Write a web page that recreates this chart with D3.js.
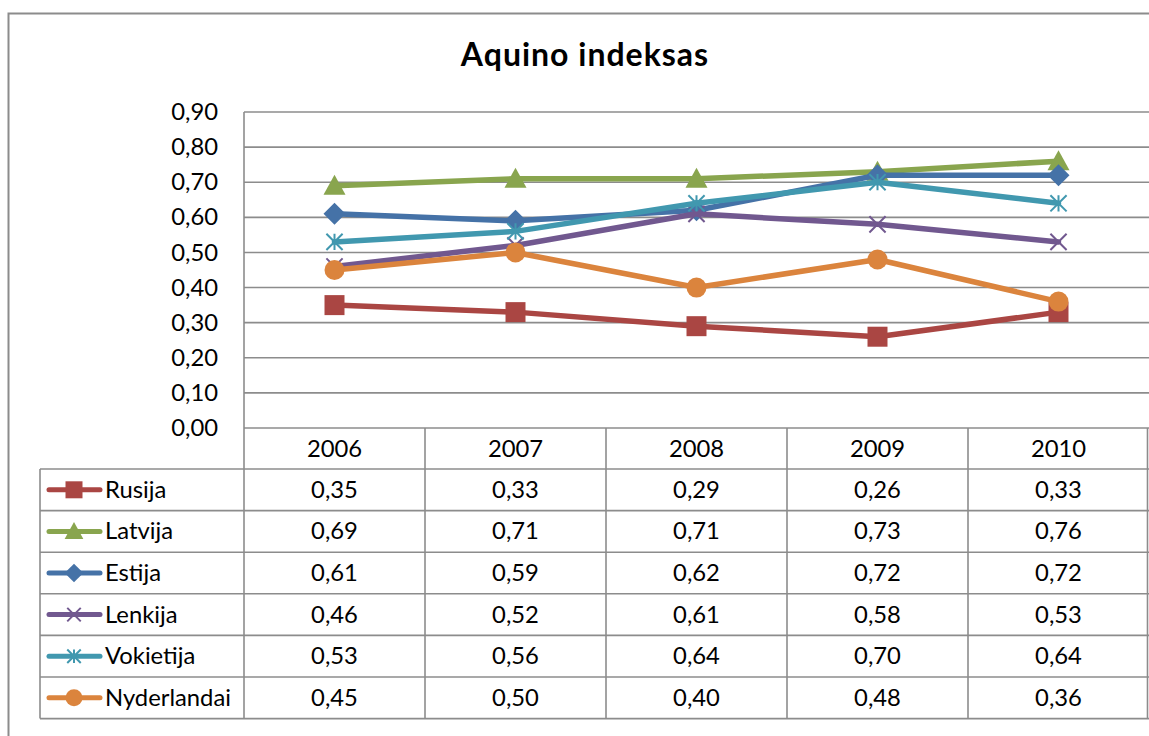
<!DOCTYPE html>
<html><head><meta charset="utf-8">
<script src="https://cdn.jsdelivr.net/npm/d3@7"></script>
<style>body{margin:0;background:#fff}svg{display:block}text{font-family:Lato,"Open Sans",sans-serif}</style>
</head><body>
<svg id="c" width="1149" height="736"></svg>
<script>
const years = ["2006","2007","2008","2009","2010"];
const seriesNames = ["Rusija","Latvija","Estija","Lenkija","Vokietija","Nyderlandai"];
const rusija = [0.35,0.33,0.29,0.26,0.33];
const latvija = [0.69,0.71,0.71,0.73,0.76];
const estija = [0.61,0.59,0.62,0.72,0.72];
const lenkija = [0.46,0.52,0.61,0.58,0.53];
const vokietija = [0.53,0.56,0.64,0.70,0.64];
const nyderlandai = [0.45,0.50,0.40,0.48,0.36];
const yTicks = [0,0.1,0.2,0.3,0.4,0.5,0.6,0.7,0.8,0.9];
const colors = ["#AA4643","#89A54E","#4572A7","#71588F","#4198AF","#DB843D"];
const markers = ["square","triangle","diamond","x","star","circle"];
const allValues = [rusija,latvija,estija,lenkija,vokietija,nyderlandai];

(function(){
const svg = d3.select("#c");
const grid = "#8c8c8c";
const fs = 23.8;
const fmt = v => d3.format(".2f")(v).replace(".", ",");

svg.append("rect").attr("x",8.5).attr("y",13.5).attr("width",1200).attr("height",800)
  .attr("fill","none").attr("stroke",grid).attr("stroke-width",2);

svg.append("text").attr("x",585).attr("y",66).attr("text-anchor","middle")
  .attr("font-size",32).attr("letter-spacing",1).attr("font-weight","bold").text("Aquino indeksas");

const pLeft = 244, pRight = 1149, pTop = 112, pBottom = 428;
const x = d3.scaleBand().domain(years).range([pLeft,pRight]);
const y = d3.scaleLinear().domain([0,0.9]).range([pBottom,pTop]);

svg.append("g").selectAll("line").data(yTicks).join("line")
  .attr("x1",pLeft).attr("x2",pRight).attr("y1",d=>y(d)).attr("y2",d=>y(d))
  .attr("stroke",grid).attr("stroke-width",1.6);
const ya = svg.append("g").attr("transform",`translate(${pLeft},0)`)
  .call(d3.axisLeft(y).tickValues(yTicks).tickFormat(fmt).tickSize(0).tickPadding(26));
ya.select(".domain").remove();
ya.selectAll("text").attr("font-size",fs).attr("font-family","Lato,'Open Sans',sans-serif").attr("fill","#000");

const rowH = 41.6;
const headerTop = pBottom, headerBot = 469;
const rowY = i => headerBot + i*rowH;
const tableBottom = rowY(seriesNames.length);
const tg = svg.append("g");
tg.append("line").attr("x1",pLeft).attr("x2",pLeft).attr("y1",pTop).attr("y2",tableBottom).attr("stroke",grid).attr("stroke-width",1.6);
tg.selectAll("line.v").data(years).join("line").attr("class","v")
  .attr("x1",d=>Math.min(x(d)+x.bandwidth(),1147.5)).attr("x2",d=>Math.min(x(d)+x.bandwidth(),1147.5))
  .attr("y1",headerTop).attr("y2",tableBottom).attr("stroke",grid).attr("stroke-width",1.6);
tg.append("line").attr("x1",40).attr("x2",40).attr("y1",headerBot).attr("y2",tableBottom).attr("stroke",grid).attr("stroke-width",1.6);
tg.selectAll("line.h").data(d3.range(seriesNames.length+1)).join("line").attr("class","h")
  .attr("x1",40).attr("x2",pRight).attr("y1",i=>rowY(i)).attr("y2",i=>rowY(i)).attr("stroke",grid).attr("stroke-width",1.6);
tg.selectAll("text.yr").data(years).join("text").attr("class","yr")
  .attr("x",d=>x(d)+x.bandwidth()/2).attr("y",(headerTop+headerBot)/2+8)
  .attr("text-anchor","middle").attr("font-size",fs).text(d=>d);

function markerPath(type, s){
  switch(type){
    case "square": return d3.symbol(d3.symbolSquare, s*s)();
    case "triangle": return `M0,${-s*0.55}L${s*0.55},${s*0.45}L${-s*0.55},${s*0.45}Z`;
    case "diamond": return `M0,${-s*0.55}L${s*0.55},0L0,${s*0.55}L${-s*0.55},0Z`;
    case "circle": return d3.symbol(d3.symbolCircle, Math.PI*(s/2)*(s/2))();
    case "x": { const h=s*0.45; return `M${-h},${-h}L${h},${h}M${-h},${h}L${h},${-h}`; }
    case "star": { const h=s*0.45; return `M${-h},${-h}L${h},${h}M${-h},${h}L${h},${-h}M0,${-h}L0,${h}`; }
  }
}
function drawMarker(g, type, color, cx, cy, s){
  const isLine = (type==="x"||type==="star");
  g.append("path").attr("d",markerPath(type,s)).attr("transform",`translate(${cx},${cy})`)
    .attr("fill",isLine?"none":color).attr("stroke",color).attr("stroke-width",isLine?2:0);
}

seriesNames.forEach((name,i)=>{
  const cy = rowY(i)+rowH/2;
  const col = colors[i];
  tg.append("line").attr("x1",49).attr("x2",100).attr("y1",cy).attr("y2",cy)
    .attr("stroke",col).attr("stroke-width",5).attr("stroke-linecap","round");
  drawMarker(tg, markers[i], col, 74, cy, markers[i]==="x"||markers[i]==="star"?15:17);
  tg.append("text").attr("x",105).attr("y",cy+8).attr("font-size",fs).text(name);
  tg.selectAll(null).data(allValues[i]).join("text")
    .attr("x",(d,j)=>x(years[j])+x.bandwidth()/2).attr("y",cy+8)
    .attr("text-anchor","middle").attr("font-size",fs).text(d=>fmt(d));
});

const lg = svg.append("g");
const lineGen = d3.line().x((d,j)=>x(years[j])+x.bandwidth()/2).y(d=>y(d));
allValues.forEach((vals,i)=>{
  lg.append("path").attr("d",lineGen(vals)).attr("fill","none").attr("stroke",colors[i])
    .attr("stroke-width",5.5).attr("stroke-linejoin","round").attr("stroke-linecap","round");
  vals.forEach((v,j)=>{
    const mk = markers[i];
    drawMarker(lg, mk, colors[i], x(years[j])+x.bandwidth()/2, y(v), mk==="x"||mk==="star"?18:20);
  });
});
})();
</script>
</body></html>
